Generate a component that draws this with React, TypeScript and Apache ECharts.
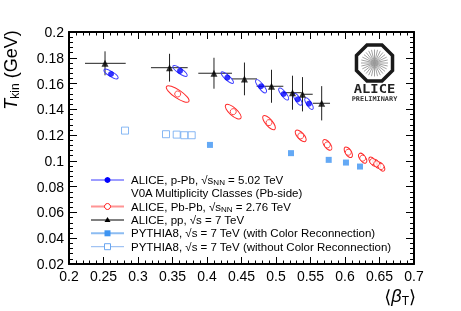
import React, { useEffect, useRef } from 'react';
import * as echarts from 'echarts';

// ALICE p-Pb (V0A multiplicity classes)
const ppbX = [0.2609, 0.3609, 0.4294, 0.4783, 0.5111, 0.5314, 0.5478];
const ppbY = [0.1674, 0.1698, 0.1646, 0.1579, 0.1519, 0.1478, 0.1444];
const ppbEllDx = [0.0101, 0.0101, 0.0087, 0.0072, 0.0065, 0.0054, 0.0055];
const ppbEllDy = [-0.0033, -0.0039, -0.0043, -0.0049, -0.0045, -0.0045, -0.0043];
const ppbEllRatio = [0.3, 0.3, 0.3, 0.32, 0.33, 0.35, 0.36];

// ALICE Pb-Pb
const pbpbX = [0.3575, 0.438, 0.4899, 0.5358, 0.5744, 0.6048, 0.6256, 0.6401, 0.6459, 0.6522];
const pbpbY = [0.1519, 0.1382, 0.1297, 0.1194, 0.1124, 0.1067, 0.1021, 0.0995, 0.0977, 0.0956];
const pbpbEllDx = [0.0162, 0.0109, 0.0084, 0.0072, 0.0055, 0.0048, 0.0048, 0.0043, 0.0043, 0.0043];
const pbpbEllDy = [-0.0058, -0.0052, -0.0052, -0.0041, -0.0039, -0.0039, -0.0036, -0.0033, -0.0033, -0.0033];
const pbpbEllRatio = [0.3, 0.38, 0.39, 0.45, 0.48, 0.5, 0.49, 0.5, 0.5, 0.5];

// ALICE pp 7 TeV
const ppX = [0.2522, 0.3457, 0.4101, 0.4543, 0.4935, 0.5239, 0.5384, 0.5662];
const ppY = [0.1757, 0.1723, 0.168, 0.1636, 0.1579, 0.1529, 0.1517, 0.1447];
const ppXLo = [0.2232, 0.3188, 0.3874, 0.4362, 0.472, 0.5101, 0.5372, 0.5532];
const ppXHi = [0.2822, 0.372, 0.4362, 0.4725, 0.5106, 0.5372, 0.5532, 0.5783];
const ppYErr = [0.0093, 0.0108, 0.012, 0.0127, 0.0128, 0.0132, 0.0133, 0.0133];

// PYTHIA8 with / without colour reconnection
const pyCrX = [0.4043, 0.5217, 0.5764, 0.6014, 0.6217];
const pyCrY = [0.1124, 0.106, 0.1008, 0.0987, 0.0956];
const pyNoCrX = [0.2812, 0.3406, 0.3561, 0.3671, 0.3778];
const pyNoCrY = [0.1235, 0.1207, 0.1204, 0.1199, 0.1199];

// Axes
const xMin = 0.2, xMax = 0.7, xStep = 0.05;
const yMin = 0.02, yMax = 0.2, yStep = 0.02;

const legendLabels = [
  '{n|ALICE, p-Pb, √s}{s|NN}{n| = 5.02 TeV}',
  '{n|V0A Multiplicity Classes (Pb-side)}',
  '{n|ALICE, Pb-Pb, √s}{s|NN}{n| = 2.76 TeV}',
  '{n|ALICE, pp, √s = 7 TeV}',
  '{n|PYTHIA8, √s = 7 TeV (with Color Reconnection)}',
  '{n|PYTHIA8, √s = 7 TeV (without Color Reconnection)}',
];

const FONT = '"Liberation Sans", Arial, Helvetica, sans-serif';

function ellipseItem(color: string) {
  return (params: any, api: any) => {
    const x = api.value(0), y = api.value(1);
    const dx = api.value(2), dy = api.value(3), r = api.value(4);
    const p0 = api.coord([x, y]);
    const p1 = api.coord([x + dx, y + dy]);
    const vx = p1[0] - p0[0], vy = p1[1] - p0[1];
    const a = Math.hypot(vx, vy);
    const ang = Math.atan2(vy, vx);
    return {
      type: 'ellipse',
      x: p0[0], y: p0[1],
      rotation: -ang,
      shape: { cx: 0, cy: 0, rx: a, ry: a * r },
      style: { fill: 'none', stroke: color, lineWidth: 1 },
    };
  };
}

function errItem(params: any, api: any) {
  const x = api.value(0), y = api.value(1);
  const xl = api.value(2), xh = api.value(3), ye = api.value(4);
  const a = api.coord([xl, y]);
  const b = api.coord([xh, y]);
  const c = api.coord([x, y + ye]);
  const d = api.coord([x, y - ye]);
  const st = { stroke: '#222', lineWidth: 1 };
  return {
    type: 'group',
    children: [
      { type: 'line', shape: { x1: a[0], y1: a[1], x2: b[0], y2: b[1] }, style: st },
      { type: 'line', shape: { x1: c[0], y1: c[1], x2: d[0], y2: d[1] }, style: st },
    ],
  };
}

export default function App() {
  const ref = useRef<HTMLDivElement>(null);
  useEffect(() => {
    if (!ref.current) return;
    const chart = echarts.init(ref.current, undefined, { renderer: 'svg' });

    const legendX0 = 91, legendX1 = 124, legendMx = 107.5, legendTx = 131;
    const rowsY = [180, 193, 206.5, 220, 233.3, 246.7];
    const graphics: any[] = [];
    const rich = {
      n: { fontSize: 11.5, fontFamily: FONT, color: '#000' },
      s: { fontSize: 8, fontFamily: FONT, color: '#000', padding: [5, 0, 0, 0] },
    };
    legendLabels.forEach((t, i) => {
      graphics.push({
        type: 'text', x: legendTx, y: rowsY[i],
        style: { text: t, rich, textVerticalAlign: 'middle', textAlign: 'left' },
      });
    });
    // legend lines and markers
    graphics.push({ type: 'line', shape: { x1: legendX0, y1: rowsY[0], x2: legendX1, y2: rowsY[0] }, style: { stroke: '#3a3aff', lineWidth: 1 } });
    graphics.push({ type: 'circle', shape: { cx: legendMx, cy: rowsY[0], r: 3 }, style: { fill: '#0000ff' } });
    graphics.push({ type: 'line', shape: { x1: legendX0, y1: rowsY[2], x2: legendX1, y2: rowsY[2] }, style: { stroke: '#ff9494', lineWidth: 2 } });
    graphics.push({ type: 'circle', shape: { cx: legendMx, cy: rowsY[2], r: 3 }, style: { fill: '#fff', stroke: '#ff2020', lineWidth: 1 } });
    graphics.push({ type: 'line', shape: { x1: legendX0, y1: rowsY[3], x2: legendX1, y2: rowsY[3] }, style: { stroke: '#000', lineWidth: 1 } });
    graphics.push({ type: 'polygon', shape: { points: [[legendMx, rowsY[3] - 3], [legendMx - 3, rowsY[3] + 2], [legendMx + 3, rowsY[3] + 2]] }, style: { fill: '#000' } });
    graphics.push({ type: 'line', shape: { x1: legendX0, y1: rowsY[4], x2: legendX1, y2: rowsY[4] }, style: { stroke: '#8cbcf2', lineWidth: 2 } });
    graphics.push({ type: 'rect', shape: { x: legendMx - 3, y: rowsY[4] - 3, width: 6, height: 6 }, style: { fill: '#3d94f2' } });
    graphics.push({ type: 'line', shape: { x1: legendX0, y1: rowsY[5], x2: legendX1, y2: rowsY[5] }, style: { stroke: '#8cb6f0', lineWidth: 1 } });
    graphics.push({ type: 'rect', shape: { x: legendMx - 3, y: rowsY[5] - 3, width: 6, height: 6 }, style: { fill: '#fff', stroke: '#6aa6f0', lineWidth: 1 } });

    // axis titles
    graphics.push({
      type: 'text', x: 11, y: 70, rotation: Math.PI / 2,
      style: {
        text: '{t|T}{k|kin}{g| (GeV)}',
        textAlign: 'center', textVerticalAlign: 'middle',
        rich: {
          t: { fontSize: 18, fontStyle: 'italic', fontFamily: FONT, color: '#000' },
          k: { fontSize: 12, fontFamily: FONT, color: '#000', padding: [7, 0, 0, 0] },
          g: { fontSize: 18, fontFamily: FONT, color: '#000' },
        },
      },
    });
    graphics.push({
      type: 'text', x: 416, y: 296,
      style: {
        text: '{g|⟨}{b|β}{k|T}{g|⟩}',
        textAlign: 'right', textVerticalAlign: 'middle',
        rich: {
          g: { fontSize: 18, fontFamily: '"DejaVu Sans", ' + FONT, color: '#000' },
          b: { fontSize: 18, fontStyle: 'italic', fontFamily: FONT, color: '#000' },
          k: { fontSize: 12, fontFamily: FONT, color: '#000', padding: [9, 0, 0, 0] },
        },
      },
    });

    // ALICE logo
    const cx = 374.5, cy = 63, R = 19.5;
    const oct: number[][] = [];
    for (let k = 0; k < 8; k++) {
      const a = (22.5 + 45 * k) * Math.PI / 180;
      oct.push([cx + R * Math.cos(a), cy + R * Math.sin(a)]);
    }
    graphics.push({ type: 'rect', shape: { x: 348, y: 40, width: 52, height: 66 }, style: { fill: '#fff' } });
    for (let k = 0; k < 28; k++) {
      const a = (k * 360 / 28) * Math.PI / 180;
      graphics.push({
        type: 'line',
        shape: { x1: cx + 2 * Math.cos(a), y1: cy + 2 * Math.sin(a), x2: cx + 13.5 * Math.cos(a), y2: cy + 13.5 * Math.sin(a) },
        style: { stroke: '#8a8a8a', lineWidth: 0.8 },
      });
    }
    graphics.push({ type: 'circle', shape: { cx, cy, r: 2.2 }, style: { fill: '#999' } });
    graphics.push({ type: 'polygon', shape: { points: oct }, style: { fill: 'none', stroke: '#1a1a1a', lineWidth: 3.5 } });
    graphics.push({
      type: 'text', x: cx, y: 88.5, scaleX: 1.2,
      style: { text: 'ALICE', fontSize: 11.5, fontWeight: 'bold', fontFamily: '"DejaVu Sans Mono", monospace', fill: '#222', textAlign: 'center', textVerticalAlign: 'middle' },
    });
    graphics.push({
      type: 'text', x: cx, y: 99, scaleX: 1.06,
      style: { text: 'PRELIMINARY', fontSize: 6.5, fontWeight: 'bold', fontFamily: '"DejaVu Sans Mono", monospace', fill: '#333', textAlign: 'center', textVerticalAlign: 'middle' },
    });

    const xAxisBase = {
      type: 'value', min: xMin, max: xMax, interval: xStep,
      axisLine: { show: true, onZero: false, lineStyle: { color: '#000', width: 2 } },
      splitLine: { show: false },
      axisTick: { show: true, inside: true, length: 7, lineStyle: { color: '#000', width: 1 } },
      minorTick: { show: true, splitNumber: 5, length: 3.5, lineStyle: { color: '#000', width: 1 } },
    };
    const yAxisBase = {
      type: 'value', min: yMin, max: yMax, interval: yStep,
      axisLine: { show: true, onZero: false, lineStyle: { color: '#000', width: 2 } },
      splitLine: { show: false },
      axisTick: { show: true, inside: true, length: 8, lineStyle: { color: '#000', width: 1 } },
      minorTick: { show: true, splitNumber: 5, length: 4, lineStyle: { color: '#000', width: 1 } },
    };

    chart.setOption({
      animation: false,
      grid: { left: 69, right: 47, top: 32, bottom: 47, containLabel: false },
      xAxis: [
        { ...xAxisBase, position: 'bottom', axisLabel: { color: '#000', fontSize: 14, fontFamily: FONT, margin: 5 } },
        { ...xAxisBase, position: 'top', axisLabel: { show: false } },
      ],
      yAxis: [
        { ...yAxisBase, position: 'left', axisLabel: { color: '#000', fontSize: 14, fontFamily: FONT, margin: 5 } },
        { ...yAxisBase, position: 'right', axisLabel: { show: false } },
      ],
      graphic: graphics,
      series: [
        {
          type: 'custom', renderItem: ellipseItem('#ff2a2a'),
          encode: { x: 0, y: 1 },
          data: pbpbX.map((x, i) => [x, pbpbY[i], pbpbEllDx[i], pbpbEllDy[i], pbpbEllRatio[i]]),
          z: 2,
        },
        {
          type: 'scatter', symbol: 'circle', symbolSize: 6,
          itemStyle: { color: '#fff', borderColor: '#ff1a1a', borderWidth: 1 },
          data: pbpbX.map((x, i) => [x, pbpbY[i]]), z: 3,
        },
        {
          type: 'custom', renderItem: errItem,
          encode: { x: 0, y: 1 },
          data: ppX.map((x, i) => [x, ppY[i], ppXLo[i], ppXHi[i], ppYErr[i]]),
          z: 2,
        },
        {
          type: 'scatter', symbol: 'triangle', symbolSize: 7,
          itemStyle: { color: '#000' },
          data: ppX.map((x, i) => [x, ppY[i]]), z: 4,
        },
        {
          type: 'custom', renderItem: ellipseItem('#3a3aff'),
          encode: { x: 0, y: 1 },
          data: ppbX.map((x, i) => [x, ppbY[i], ppbEllDx[i], ppbEllDy[i], ppbEllRatio[i]]),
          z: 3,
        },
        {
          type: 'scatter', symbol: 'circle', symbolSize: 6,
          itemStyle: { color: '#0000ff' },
          data: ppbX.map((x, i) => [x, ppbY[i]]), z: 4,
        },
        {
          type: 'scatter', symbol: 'rect', symbolSize: 6,
          itemStyle: { color: '#3d94f2' },
          data: pyCrX.map((x, i) => [x, pyCrY[i]]), z: 4,
        },
        {
          type: 'scatter', symbol: 'rect', symbolSize: 7,
          itemStyle: { color: '#fff', borderColor: '#6aa6f0', borderWidth: 1 },
          data: pyNoCrX.map((x, i) => [x, pyNoCrY[i]]), z: 4,
        },
      ],
    });
    return () => chart.dispose();
  }, []);
  return <div ref={ref} style={{ position: 'fixed', left: 0, top: 0, width: 461, height: 311 }} />;
}
